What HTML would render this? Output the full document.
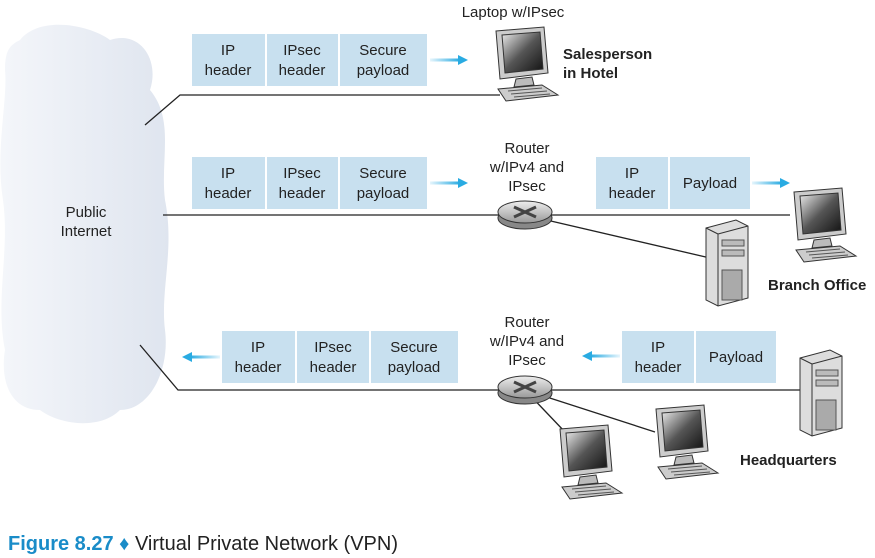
<!DOCTYPE html><html><head><style>body{margin:0;background:#fff}svg{display:block}text{font-family:"Liberation Sans",sans-serif;font-size:15px;fill:#222}</style></head><body>
<svg width="875" height="558" viewBox="0 0 875 558">
<defs>
<linearGradient id="cl" x1="0" x2="1"><stop offset="0" stop-color="#f4f6fa"/><stop offset="1" stop-color="#dfe5ef"/></linearGradient>
<linearGradient id="scr" x1="0" y1="0" x2="1" y2="1"><stop offset="0" stop-color="#eee"/><stop offset=".5" stop-color="#555"/><stop offset="1" stop-color="#111"/></linearGradient>
<linearGradient id="rt" x1="0" y1="0" x2="0" y2="1"><stop offset="0" stop-color="#eee"/><stop offset="1" stop-color="#999"/></linearGradient>
<g id="mon"><path d="M4 4 L52 0 L56 46 L8 52 Z" fill="#ccc" stroke="#333"/><path d="M10 8 L48 5 L51 42 L13 46 Z" fill="url(#scr)" stroke="#333"/><path d="M24 52 L40 50 L42 58 L22 60Z" fill="#bbb" stroke="#333"/><path d="M6 62 L50 58 L66 68 L14 74 Z" fill="#ccc" stroke="#333"/><path d="M16 64 L50 61 M19 67 L55 64 M22 70 L58 67" stroke="#555"/></g>
<g id="srv"><path d="M0 8 L30 0 L42 6 L42 78 L12 86 L0 80 Z" fill="#ddd" stroke="#333"/><path d="M12 14 L42 6 M12 14 L12 86 M0 8 L12 14" stroke="#333" fill="none"/><rect x="16" y="20" width="22" height="6" fill="#bbb" stroke="#555"/><rect x="16" y="30" width="22" height="6" fill="#bbb" stroke="#555"/><rect x="16" y="50" width="20" height="30" fill="#aaa" stroke="#555"/></g>
<g id="rtr"><ellipse cx="0" cy="6" rx="27" ry="11" fill="#888" stroke="#333"/><ellipse cx="0" cy="0" rx="27" ry="11" fill="url(#rt)" stroke="#333"/><path d="M-11 -5 L11 5 M-11 5 L11 -5" stroke="#444" stroke-width="3"/></g>
<linearGradient id="ag" x1="0" x2="1"><stop offset="0" stop-color="#e6f5fc"/><stop offset="1" stop-color="#29abe2"/></linearGradient>
<g id="ar"><rect x="0" y="-1.5" width="30" height="3" fill="url(#ag)"/><path d="M28 -5 L38 0 L28 5Z" fill="#29abe2"/></g>
</defs>
<path d="M20 40 C40 15 90 25 110 40 C140 30 160 60 150 90 C175 120 160 160 165 200 C175 250 160 290 165 330 C170 370 150 410 120 410 C100 430 60 425 40 410 C10 410 0 380 5 350 C-5 300 10 250 3 200 C-5 150 8 100 5 70 C5 50 10 45 20 40Z" fill="url(#cl)"/>
<text x="86" y="217" text-anchor="middle">Public</text><text x="86" y="236" text-anchor="middle">Internet</text>
<g stroke="#222" stroke-width="1.3" fill="none">
<path d="M145 125 L180 95 L500 95"/><path d="M163 215 L790 215"/><path d="M140 345 L178 390 L800 390"/>
<path d="M525 215 L710 258"/><path d="M525 390 L565 432"/><path d="M525 390 L655 432"/>
</g>
<g fill="#c8e0ef"><rect x="192" y="34" width="73" height="52"/><rect x="267" y="34" width="71" height="52"/><rect x="340" y="34" width="87" height="52"/>
<rect x="192" y="157" width="73" height="52"/><rect x="267" y="157" width="71" height="52"/><rect x="340" y="157" width="87" height="52"/>
<rect x="596" y="157" width="72" height="52"/><rect x="670" y="157" width="80" height="52"/>
<rect x="222" y="331" width="73" height="52"/><rect x="297" y="331" width="72" height="52"/><rect x="371" y="331" width="87" height="52"/>
<rect x="622" y="331" width="72" height="52"/><rect x="696" y="331" width="80" height="52"/></g>
<g text-anchor="middle">
<text x="228" y="55">IP</text><text x="228" y="75">header</text><text x="302" y="55">IPsec</text><text x="302" y="75">header</text><text x="383" y="55">Secure</text><text x="383" y="75">payload</text>
<text x="228" y="178">IP</text><text x="228" y="198">header</text><text x="302" y="178">IPsec</text><text x="302" y="198">header</text><text x="383" y="178">Secure</text><text x="383" y="198">payload</text>
<text x="632" y="178">IP</text><text x="632" y="198">header</text><text x="710" y="188">Payload</text>
<text x="258" y="352">IP</text><text x="258" y="372">header</text><text x="333" y="352">IPsec</text><text x="333" y="372">header</text><text x="414" y="352">Secure</text><text x="414" y="372">payload</text>
<text x="658" y="352">IP</text><text x="658" y="372">header</text><text x="736" y="362">Payload</text>
<text x="513" y="17">Laptop w/IPsec</text>
<text x="527" y="153">Router</text><text x="527" y="172">w/IPv4 and</text><text x="527" y="191">IPsec</text>
<text x="527" y="327">Router</text><text x="527" y="346">w/IPv4 and</text><text x="527" y="365">IPsec</text>
</g>
<text x="563" y="59" style="font-weight:bold">Salesperson</text><text x="563" y="78" style="font-weight:bold">in Hotel</text>
<text x="768" y="290" style="font-weight:bold">Branch Office</text><text x="740" y="465" style="font-weight:bold">Headquarters</text>
<use href="#ar" x="430" y="60"/><use href="#ar" x="430" y="183"/><use href="#ar" x="752" y="183"/>
<use href="#ar" transform="translate(220 357) scale(-1 1)"/><use href="#ar" transform="translate(620 356) scale(-1 1)"/>
<use href="#mon" x="492" y="27"/><use href="#mon" x="790" y="188"/><use href="#mon" x="556" y="425"/><use href="#mon" x="652" y="405"/>
<use href="#srv" x="706" y="220"/><use href="#srv" x="800" y="350"/>
<use href="#rtr" x="525" y="212"/><use href="#rtr" x="525" y="387"/>
<text x="8" y="550" style="font-size:20px"><tspan style="font-weight:bold;fill:#1a8cc8">Figure 8.27</tspan><tspan style="fill:#1a8cc8"> ♦ </tspan><tspan>Virtual Private Network (VPN)</tspan></text>
</svg></body></html>
